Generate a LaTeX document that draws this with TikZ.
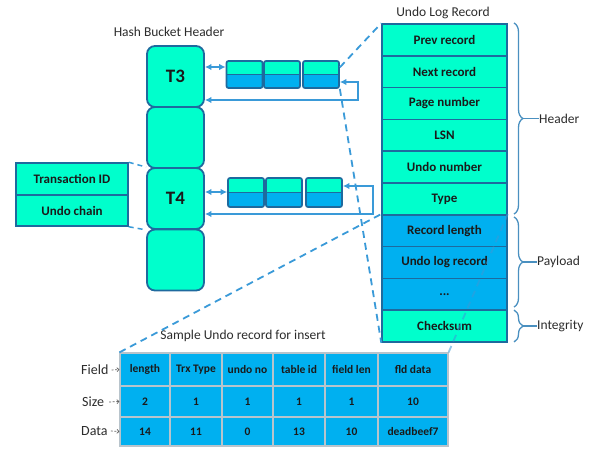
\documentclass[tikz,border=0pt]{standalone}
\usepackage{fontspec}
\setmainfont{Carlito}
\usetikzlibrary{arrows.meta,decorations.pathreplacing,calc}
\definecolor{aqua}{HTML}{00FFCC}
\definecolor{skyb}{HTML}{00B0F0}
\definecolor{edgec}{HTML}{1E6A9E}
\definecolor{linkc}{HTML}{3A9AD8}
\definecolor{gridc}{HTML}{B8C4CC}
\definecolor{inkc}{HTML}{1A1A1A}
\definecolor{bracec}{HTML}{4A90C0}
\begin{document}
\begin{tikzpicture}[x=1pt,y=-1pt,
  every node/.style={inner sep=0pt, text=inkc},
  bucket/.style={draw=edgec, fill=aqua, line width=1.8pt, rounded corners=8pt,
    minimum width=57pt, minimum height=61pt, font=\fontsize{19}{19}\selectfont\bfseries},
  chainblk/.style={draw=edgec, fill=skyb, line width=1.7pt, rounded corners=2pt,
    minimum width=36pt, minimum height=27pt,
    path picture={\fill[aqua] (path picture bounding box.north west) rectangle (path picture bounding box.east);
      \draw[edgec,line width=1.7pt] (path picture bounding box.west) -- (path picture bounding box.east);}},
  recfield/.style={draw=edgec, line width=1.5pt, minimum width=125pt, minimum height=31.8pt,
    font=\fontsize{13}{13}\selectfont\bfseries},
  txfield/.style={draw=edgec, fill=aqua, line width=1.5pt, minimum width=112pt,
    font=\fontsize{13}{13}\selectfont\bfseries},
  cell/.style={draw=gridc, fill=skyb, line width=1.2pt, font=\fontsize{11.5}{11.5}\selectfont\bfseries},
  lbl/.style={font=\fontsize{13.5}{13.5}\selectfont, text=inkc!92},
  rowlbl/.style={font=\fontsize{14}{14}\selectfont, text=inkc!92},
  link/.style={draw=linkc, line width=1.3pt},
  tips/.style={{Latex[length=6.5pt,width=6.5pt]}-{Latex[length=6.5pt,width=6.5pt]}},
  zoomln/.style={draw=linkc, line width=1.8pt, dash pattern=on 7pt off 5pt},
  hint/.style={draw=inkc!70, line width=0.7pt, dash pattern=on 2pt off 1.5pt, -{Straight Barb[length=2pt]}},
  bracket/.style={draw=bracec, line width=1.3pt, decorate, decoration={brace, amplitude=9pt}}
]
\useasboundingbox (0,0) rectangle (595,450);

% hash bucket column
\node[lbl] (hbh) at (169,32) {Hash Bucket Header};
\node[bucket] (b1) at (175.5,76.5) {T3};
\node[bucket] (b2) at (175.5,137.5) {};
\node[bucket] (b3) at (175.5,198.5) {T4};
\node[bucket] (b4) at (175.5,260) {};

% transaction entry
\node[txfield, minimum height=32pt] (tid) at (72,179) {Transaction ID};
\node[txfield, minimum height=31pt] (uch) at (72,210.5) {Undo chain};
\draw[zoomln, line width=1.5pt, dash pattern=on 5pt off 4pt] (tid.north east) -- (b3.north west);
\draw[zoomln, line width=1.5pt, dash pattern=on 5pt off 4pt] (uch.south east) -- (b3.south west);

% undo chains
\node[chainblk] (u1) at (244.5,74.5) {};
\node[chainblk] (u2) at (282,74.5) {};
\node[chainblk] (u3) at (321,74.5) {};
\node[chainblk, minimum height=29pt] (l1) at (246,192.5) {};
\node[chainblk, minimum height=29pt] (l2) at (284,192.5) {};
\node[chainblk, minimum height=29pt] (l3) at (324,192.5) {};

\draw[link, tips] (b1.east |- 0,67) -- (u1.west |- 0,67);
\draw[link, tips] (u3.east |- 0,82) -- ++(18,0) |- (b1.east |- 0,100);
\draw[link, tips] (b3.east |- 0,192) -- (l1.west |- 0,192);
\draw[link, tips] (l3.east |- 0,186) -- ++(30,0) |- (b3.east |- 0,214);

% undo log record
\node[lbl] (ulr) at (443,13) {Undo Log Record};
\node[recfield, fill=aqua] (r1) at (444.5,39.9) {Prev record};
\node[recfield, fill=aqua] (r2) at (444.5,71.7) {Next record};
\node[recfield, fill=aqua] (r3) at (444.5,103.5) {Page number};
\node[recfield, fill=aqua] (r4) at (444.5,135.3) {LSN};
\node[recfield, fill=aqua] (r5) at (444.5,167.1) {Undo number};
\node[recfield, fill=aqua] (r6) at (444.5,198.9) {Type};
\node[recfield, fill=skyb] (r7) at (444.5,230.7) {Record length};
\node[recfield, fill=skyb] (r8) at (444.5,262.5) {Undo log record};
\node[recfield, fill=skyb] (r9) at (444.5,294.3) {...};
\node[recfield, fill=aqua] (r10) at (444.5,326.1) {Checksum};

% section brackets
\draw[bracket] (514,23) -- (514,214);
\draw[bracket] (514,217) -- (514,307);
\draw[bracket] (514,310) -- (514,342);
\coordinate (hdtip) at (523,118.5);
\coordinate (pltip) at (523,262);
\coordinate (ittip) at (523,326);
\node[lbl, anchor=west] (hd) at (539,118.5) {Header};
\node[lbl, anchor=west] (pl) at (537,262) {Payload};
\node[lbl, anchor=west] (it) at (537,326) {Integrity};
\draw[draw=bracec, line width=1.3pt] (hdtip) -- (hd.west);
\draw[draw=bracec, line width=1.3pt] (pltip) -- (pl.west);
\draw[draw=bracec, line width=1.3pt] (ittip) -- (it.west);

% sample record table
\node[lbl] (sur) at (243,336) {Sample Undo record for insert};
\foreach \cx/\w/\fa/\fb/\fc [count=\k] in {145/50/length/2/14, 196/52/Trx Type/1/11,
    247.5/51/undo no/1/0, 299/52/table id/1/13, 351.5/53/field len/1/10, 413/70/fld data/10/deadbeef7} {
  \node[cell, minimum width=\w pt, minimum height=33pt] (t-1-\k) at (\cx,369.5) {\fa};
  \node[cell, minimum width=\w pt, minimum height=31pt] (t-2-\k) at (\cx,401.5) {\fb};
  \node[cell, minimum width=\w pt, minimum height=29pt] (t-3-\k) at (\cx,431.5) {\fc};
}
\node[rowlbl, anchor=west] (fl) at (81,370) {Field};
\node[rowlbl, anchor=west] (sz) at (82,402) {Size};
\node[rowlbl, anchor=west] (dt) at (81,431) {Data};
\draw[hint] ([xshift=3pt]fl.east) -- (t-1-1.west);
\draw[hint] ([xshift=5pt]sz.east) -- (t-2-1.west);
\draw[hint] ([xshift=3pt]dt.east) -- (t-3-1.west);

% magnification guides
\draw[zoomln] ($(u3.north east)!0.25!(u3.south east)$) -- (r1.north west);
\draw[zoomln] (u3.south east) -- (r10.south west);
\draw[zoomln] (t-1-1.north west) -- (r7.north west);
\draw[zoomln, draw opacity=0.55] (t-1-6.north east) -- (r7.north east);
\end{tikzpicture}
\end{document}
